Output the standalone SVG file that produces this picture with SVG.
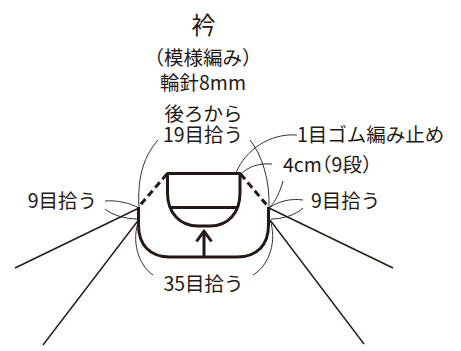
<svg xmlns="http://www.w3.org/2000/svg" width="461" height="351" viewBox="0 0 461 351">
<style>
text{font-family:"Noto Sans CJK JP","Noto Sans",sans-serif;font-size:19.5px;fill:#231815}
.c{text-anchor:middle}
.p{font-feature-settings:"halt"}
.thick{fill:none;stroke:#231815;stroke-width:3;stroke-linejoin:round}
.dash{fill:none;stroke:#231815;stroke-width:3;stroke-dasharray:7 4}
.lead{fill:none;stroke:#231815;stroke-width:1.4}
.thin{fill:none;stroke:#231815;stroke-width:0.9}
</style>
<rect width="461" height="351" fill="#fff"/>
<g id="collar">
<path class="thick" d="M167.5,173.5 H240 V193 C240,213 228,226 210,226 H198 C180,226 167.5,213 167.5,193 Z"/>
<path class="thick" d="M170.5,207.5 H237"/>
</g>
<g id="body">
<path class="thick" d="M138.5,207 V225 C138.5,245 150,257 170,257 H237 C257,257 268.5,245 268.5,225 V207"/>
<path class="dash" d="M167,174 L138.5,207"/>
<path class="dash" d="M240.5,174 L268.5,207"/>
<path class="thick" d="M204,257 V232 M196.5,241.5 L204,231 L211.5,241.5"/>
</g>
<g id="connectors">
<path class="lead" d="M139,208 L15,268"/>
<path class="lead" d="M138.5,220 L43,345"/>
<path class="lead" d="M269,208 L393,268"/>
<path class="lead" d="M270,220 L364,344"/>
<path class="thin" d="M158,140 C145,155 137,175 139,208"/>
<path class="thin" d="M250,140 C262,155 270,180 269,208"/>
<path class="thin" d="M297,135 C270,133 245,150 236,173"/>
<path class="thin" d="M272,164 C258,163 248,167 241,174"/>
<path class="thin" d="M283,181 C280,192 275,202 270,207"/>
<path class="thin" d="M303,200 C290,198 277,202 269,208"/>
<path class="thin" d="M303,208 C296,215 282,219 271,219"/>
<path class="thin" d="M105,201 C117,200 130,203 139,208"/>
<path class="thin" d="M105,209 C112,215 125,219 138,219"/>
<path class="thin" d="M139,220 C131,240 138,265 153,275"/>
<path class="thin" d="M270,220 C277,240 270,265 253,275"/>
</g>
<g id="labels">
<text class="c" x="203.5" y="34" style="font-size:24px">衿</text>
<text class="c" x="203" y="64.5"><tspan class="p">（</tspan>模様編み<tspan class="p">）</tspan></text>
<text class="c" x="203" y="90">輪針8mm</text>
<text class="c" x="203.5" y="120.5">後ろから</text>
<text class="c" x="203" y="142">19目拾う</text>
<text x="297" y="142">1目ゴム編み止め</text>
<text x="283" y="172">4cm<tspan class="p">（</tspan>9段<tspan class="p">）</tspan></text>
<text x="311" y="207.5">9目拾う</text>
<text x="97" y="208" style="text-anchor:end">9目拾う</text>
<text class="c" x="203.5" y="291">35目拾う</text>
</g>
</svg>
